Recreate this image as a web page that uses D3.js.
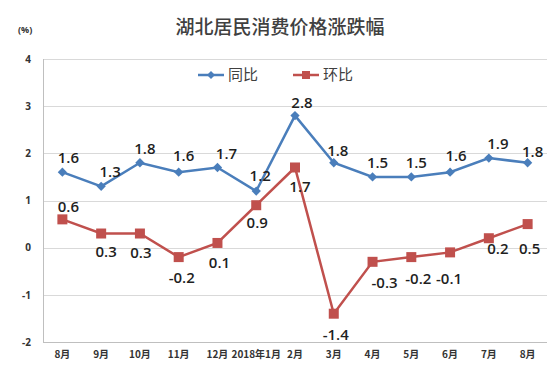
<!DOCTYPE html>
<html>
<head>
<meta charset="utf-8">
<script src="https://cdn.jsdelivr.net/npm/d3@7"></script>
<style>
html,body{margin:0;padding:0;background:#fff;}
svg{display:block;}
</style>
</head>
<body>
<svg id="chart" width="550" height="372"></svg>
<script>
// ---- data ----
const categories = ["8月","9月","10月","11月","12月","2018年1月","2月","3月","4月","5月","6月","7月","8月"];
const yoy = [1.6, 1.3, 1.8, 1.6, 1.7, 1.2, 2.8, 1.8, 1.5, 1.5, 1.6, 1.9, 1.8];   // 同比
const mom = [0.6, 0.3, 0.3, -0.2, 0.1, 0.9, 1.7, -1.4, -0.3, -0.2, -0.1, 0.2, 0.5]; // 环比
const yTicks = [-2, -1, 0, 1, 2, 3, 4];
const seriesNames = ["同比", "环比"];

// label placement (layout only)
const yoyLabelOffset = [[6,-14],[9,-15],[5,-14],[5,-16],[9,-14],[4,-15],[7,-13],[4,-12],[5,-14],[5,-14],[6,-16],[9,-14],[5,-11]];
const momLabelOffset = [[6,-13],[5,18],[1,19],[3,21],[2,20],[1,18],[5,19],[2,21],[12,21],[7,22],[-1,26],[9,11],[2,25]];

const svg = d3.select("#chart");
const margin = {left:43, right:3, top:59, bottom:30};
const W = 550, H = 372;
const x = d3.scaleBand().domain(d3.range(categories.length)).range([margin.left, W - margin.right]);
const y = d3.scaleLinear().domain([-2, 4]).range([H - margin.bottom, margin.top]);
const cx = i => x(i) + x.bandwidth()/2;

const blue = "#4a7ebb", red = "#c0504d";
const cjk = "'Noto Sans CJK SC','Noto Sans',sans-serif";
const num = "'Open Sans','Noto Sans',sans-serif";
const hyph = s => String(s).replace("\u2212", "-");

// title
svg.append("text").attr("x", 280).attr("y", 34).attr("text-anchor","middle")
  .attr("font-family", cjk).attr("font-size", 19).attr("font-weight", 500).attr("fill", "#404040")
  .text("湖北居民消费价格涨跌幅");
svg.append("text").attr("x", 18).attr("y", 33)
  .attr("font-family", num).attr("font-size", 9).attr("font-weight", 700).attr("fill", "#333")
  .text("(%)");

// gridlines
const grid = svg.append("g");
grid.selectAll("line").data(yTicks).enter().append("line")
  .attr("x1", margin.left).attr("x2", W - margin.right)
  .attr("y1", d => Math.round(y(d)) + 0.5).attr("y2", d => Math.round(y(d)) + 0.5)
  .attr("stroke", d => d === -2 ? "#bfbfbf" : "#d9d9d9").attr("stroke-width", 1);
svg.append("line").attr("x1", margin.left + 0.5).attr("x2", margin.left + 0.5)
  .attr("y1", y(4)).attr("y2", y(-2)).attr("stroke", "#bfbfbf");

// y axis
const yAxis = d3.axisLeft(y).tickValues(yTicks).tickSize(0).tickPadding(12).tickFormat(d => hyph(d3.format("d")(d)));
const ya = svg.append("g").attr("transform", `translate(${margin.left},0)`).call(yAxis);
ya.select(".domain").remove();
ya.selectAll("text").attr("font-family", num).attr("font-size", 10).attr("font-weight", 700).attr("fill", "#333");

// x axis
const xAxis = d3.axisBottom(x).tickSize(0).tickPadding(9).tickFormat(i => categories[i]);
const xa = svg.append("g").attr("transform", `translate(0,${H - margin.bottom})`).call(xAxis);
xa.select(".domain").remove();
xa.selectAll("text").attr("font-family", cjk).attr("font-size", 10).attr("font-weight", 700).attr("fill", "#333");

// lines
const line = d3.line().x((d,i) => cx(i)).y(d => y(d));
svg.append("path").datum(mom).attr("d", line).attr("fill","none").attr("stroke", red).attr("stroke-width", 2.5);
svg.append("path").datum(yoy).attr("d", line).attr("fill","none").attr("stroke", blue).attr("stroke-width", 2.5);

// markers
const diamond = d3.symbol().type(d3.symbolDiamond2).size(55);
svg.append("g").selectAll("path").data(yoy).enter().append("path")
  .attr("d", diamond).attr("transform", (d,i) => `translate(${cx(i)},${y(d)})`).attr("fill", blue);
svg.append("g").selectAll("rect").data(mom).enter().append("rect")
  .attr("x", (d,i) => cx(i) - 5).attr("y", d => y(d) - 5).attr("width", 10).attr("height", 10).attr("fill", red);

// data labels
const fmt = d => hyph(d3.format(".1f")(d));
svg.append("g").selectAll("text").data(yoy).enter().append("text")
  .attr("x", (d,i) => cx(i) + yoyLabelOffset[i][0]).attr("y", (d,i) => y(d) + yoyLabelOffset[i][1])
  .attr("dy", "0.35em").attr("text-anchor","middle")
  .attr("font-family", num).attr("font-size", 15).attr("font-weight", 600).attr("fill", "#1f1f1f")
  .text(d => fmt(d));
svg.append("g").selectAll("text").data(mom).enter().append("text")
  .attr("x", (d,i) => cx(i) + momLabelOffset[i][0]).attr("y", (d,i) => y(d) + momLabelOffset[i][1])
  .attr("dy", "0.35em").attr("text-anchor","middle")
  .attr("font-family", num).attr("font-size", 15).attr("font-weight", 600).attr("fill", "#1f1f1f")
  .text(d => fmt(d));

// legend
const lg = svg.append("g");
const legendItems = [{name: seriesNames[0], color: blue, x: 198, type: "d"}, {name: seriesNames[1], color: red, x: 293, type: "s"}];
legendItems.forEach(it => {
  lg.append("line").attr("x1", it.x).attr("x2", it.x + 26).attr("y1", 75).attr("y2", 75)
    .attr("stroke", it.color).attr("stroke-width", 2.5);
  if (it.type === "d") {
    lg.append("path").attr("d", d3.symbol().type(d3.symbolDiamond2).size(40)).attr("transform", `translate(${it.x+13},75)`).attr("fill", it.color);
  } else {
    lg.append("rect").attr("x", it.x + 9).attr("y", 71).attr("width", 8).attr("height", 8).attr("fill", it.color);
  }
  lg.append("text").attr("x", it.x + 30).attr("y", 75).attr("dy","0.36em")
    .attr("font-family", cjk).attr("font-size", 15).attr("fill", "#404040").text(it.name);
});
</script>
</body>
</html>
